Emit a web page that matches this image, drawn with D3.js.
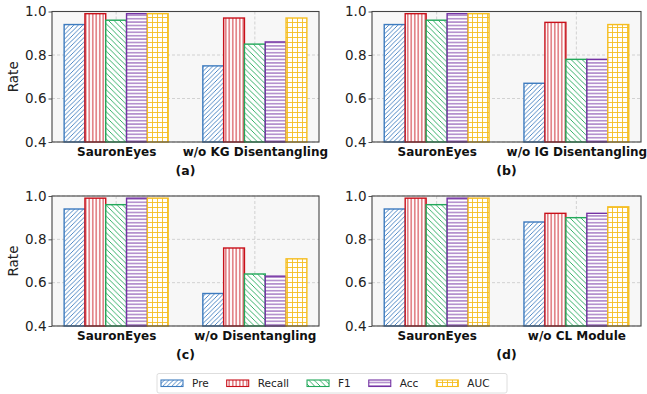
<!doctype html>
<html>
<head>
<style>
  body { margin: 0; background: #fff; }
  svg { display: block; font-family: "DejaVu Sans", sans-serif; }
</style>
<script src="https://cdn.jsdelivr.net/npm/d3@7"></script>
</head>
<body>
<svg id="chart" width="647" height="394"></svg>
<script>
// metrics (legend order) and their styles
var metrics = ["Pre", "Recall", "F1", "Acc", "AUC"];
var colors = ["#3d7bbf", "#c8101a", "#22a85a", "#7432a3", "#f5bd1f"];
var hatches = ["fwd", "vert", "back", "horiz", "grid"];

// panel data
var panelLabels = ["(a)", "(b)", "(c)", "(d)"];
var panelCats = [
  ["SauronEyes", "w/o KG Disentangling"],
  ["SauronEyes", "w/o IG Disentangling"],
  ["SauronEyes", "w/o Disentangling"],
  ["SauronEyes", "w/o CL Module"]
];
var fullValues = [0.94, 0.99, 0.96, 0.99, 0.99];
var kgValues = [0.75, 0.97, 0.85, 0.86, 0.97];
var igValues = [0.67, 0.95, 0.78, 0.78, 0.94];
var disValues = [0.55, 0.76, 0.64, 0.63, 0.71];
var clValues = [0.88, 0.92, 0.90, 0.92, 0.95];
var panelValues = [
  [fullValues, kgValues],
  [fullValues, igValues],
  [fullValues, disValues],
  [fullValues, clValues]
];
var yTicks = [0.4, 0.6, 0.8, 1.0];

var svg = d3.select("#chart");
var defs = svg.append("defs");

// hatch patterns
hatches.forEach(function(h, i) {
  var c = colors[i];
  var size = {fwd: 4.5, vert: 3.5, back: 5.5, horiz: 3.4, grid: 5}[h];
  var p = defs.append("pattern")
    .attr("id", "hatch-" + h)
    .attr("patternUnits", "userSpaceOnUse")
    .attr("width", size).attr("height", size);
  p.append("rect").attr("width", size).attr("height", size).attr("fill", "#fff");
  var sw = 0.9;
  if (h == "fwd") {
    p.append("path").attr("d", "M0," + size + "L" + size + ",0M-1,1L1,-1M" + (size - 1) + "," + (size + 1) + "L" + (size + 1) + "," + (size - 1))
      .attr("stroke", c).attr("stroke-width", sw);
  } else if (h == "back") {
    p.append("path").attr("d", "M0,0L" + size + "," + size + "M-1," + (size - 1) + "L1," + (size + 1) + "M" + (size - 1) + ",-1L" + (size + 1) + ",1")
      .attr("stroke", c).attr("stroke-width", sw);
  } else if (h == "vert") {
    p.append("line").attr("x1", size / 2).attr("x2", size / 2).attr("y1", 0).attr("y2", size)
      .attr("stroke", c).attr("stroke-width", sw);
  } else if (h == "horiz") {
    p.append("line").attr("y1", size / 2).attr("y2", size / 2).attr("x1", 0).attr("x2", size)
      .attr("stroke", c).attr("stroke-width", sw);
  } else {
    p.append("path").attr("d", "M" + size / 2 + ",0V" + size + "M0," + size / 2 + "H" + size)
      .attr("stroke", c).attr("stroke-width", sw);
  }
});

var panels = [
  {left: 52, right: 319, top: 11.5, bottom: 142},
  {left: 372, right: 641, top: 11.5, bottom: 142},
  {left: 52, right: 319, top: 196, bottom: 326},
  {left: 372, right: 641, top: 196, bottom: 326}
];

var barW = 0.15;

panels.forEach(function(pn, k) {
  var x = d3.scaleLinear().domain([-0.4625, 1.4625]).range([pn.left, pn.right]);
  var y = d3.scaleLinear().domain([0.4, 1.0]).range([pn.bottom, pn.top]);
  var g = svg.append("g");

  g.append("rect")
    .attr("x", pn.left).attr("y", pn.top)
    .attr("width", pn.right - pn.left).attr("height", pn.bottom - pn.top)
    .attr("fill", "#f7f7f7");

  // grid
  g.selectAll(".hg").data(yTicks).enter().append("line")
    .attr("x1", pn.left).attr("x2", pn.right)
    .attr("y1", function(d) { return y(d); }).attr("y2", function(d) { return y(d); })
    .attr("stroke", "#c8c8c8").attr("stroke-width", 0.8).attr("stroke-dasharray", "3,2");
  g.selectAll(".vg").data([0, 1]).enter().append("line")
    .attr("x1", function(d) { return x(d); }).attr("x2", function(d) { return x(d); })
    .attr("y1", pn.top).attr("y2", pn.bottom)
    .attr("stroke", "#c8c8c8").attr("stroke-width", 0.8).attr("stroke-dasharray", "3,2");

  // bars
  panelValues[k].forEach(function(vals, ci) {
    g.selectAll(".bar" + ci).data(vals).enter().append("rect")
      .attr("x", function(d, j) { return x(ci + (j - 2) * barW - barW / 2); })
      .attr("width", x(barW) - x(0))
      .attr("y", function(d) { return y(d); })
      .attr("height", function(d) { return y(0.4) - y(d); })
      .attr("fill", function(d, j) { return "url(#hatch-" + hatches[j] + ")"; })
      .attr("stroke", function(d, j) { return colors[j]; })
      .attr("stroke-width", 1.4);
  });

  // frame
  g.append("rect")
    .attr("x", pn.left).attr("y", pn.top)
    .attr("width", pn.right - pn.left).attr("height", pn.bottom - pn.top)
    .attr("fill", "none").attr("stroke", "#444").attr("stroke-width", 1.1);

  // y axis
  var ya = g.append("g")
    .attr("transform", "translate(" + pn.left + ",0)")
    .call(d3.axisLeft(y).tickValues(yTicks).tickFormat(d3.format(".1f")).tickSize(3.5).tickPadding(2));
  ya.select(".domain").remove();
  ya.selectAll(".tick line").attr("stroke", "#444").attr("stroke-width", 0.9);
  ya.selectAll("text").attr("font-size", "13.5px").attr("fill", "#222").attr("font-family", "DejaVu Sans");

  // x category labels
  var xa = g.append("g")
    .attr("transform", "translate(0," + pn.bottom + ")")
    .call(d3.axisBottom(x).tickValues([0, 1]).tickFormat(function(d) { return panelCats[k][d]; }).tickSize(0).tickPadding(5));
  xa.select(".domain").remove();
  xa.selectAll("text").attr("font-size", "12px").attr("font-weight", "bold").attr("fill", "#111").attr("font-family", "DejaVu Sans");

  // panel label
  g.append("text")
    .attr("x", (pn.left + pn.right) / 2).attr("y", pn.bottom + 33)
    .attr("text-anchor", "middle").attr("font-size", "12.5px").attr("font-weight", "bold")
    .attr("fill", "#111").text(panelLabels[k]);

  if (k % 2 == 0) {
    g.append("text")
      .attr("transform", "translate(18," + (pn.top + pn.bottom) / 2 + ") rotate(-90)")
      .attr("text-anchor", "middle").attr("font-size", "13.5px").attr("fill", "#222")
      .text("Rate");
  }
});

// legend
var lg = svg.append("g");
var lgBox = lg.append("rect")
  .attr("x", 157).attr("y", 373.5).attr("width", 350).attr("height", 19.5)
  .attr("rx", 2).attr("fill", "#fff").attr("stroke", "#d5d5d5").attr("stroke-width", 0.8);
var lx = 161;
metrics.forEach(function(m, i) {
  lg.append("rect")
    .attr("x", lx).attr("y", 380).attr("width", 22).attr("height", 6.5)
    .attr("fill", "url(#hatch-" + hatches[i] + ")")
    .attr("stroke", colors[i]).attr("stroke-width", 1.1);
  var t = lg.append("text")
    .attr("x", lx + 31).attr("y", 387)
    .attr("font-size", "10.5px").attr("fill", "#222").text(m);
  lx = lx + 31 + t.node().getComputedTextLength() + 18;
});
</script>
</body>
</html>
